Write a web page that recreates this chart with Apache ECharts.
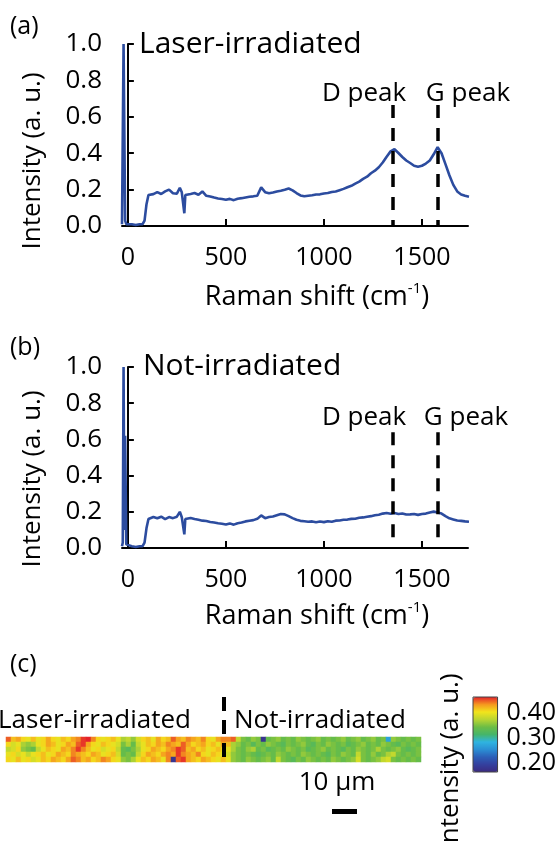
<!DOCTYPE html>
<html>
<head>
<meta charset="utf-8">
<script src="https://cdn.jsdelivr.net/npm/echarts@6/dist/echarts.min.js"></script>
<style>
  html, body { margin: 0; padding: 0; background: #fff; }
  #chart { width: 559px; height: 845px; }
</style>
</head>
<body>
<div id="chart"></div>
<script>
// ---- Raman spectra (a) laser-irradiated, (b) not-irradiated ----
const ramanShift = [
  -30, -26, -22, -18, -14, -8, 0, 20, 40, 60,
  75, 85, 95, 105, 115, 130, 150, 170, 190, 210,
  230, 250, 265, 275, 283, 288, 293, 300,
  320, 340, 360, 380, 400, 420, 440, 460, 480, 500,
  520, 540, 560, 580, 600, 620, 640, 660, 680, 700,
  720, 740, 760, 780, 800, 820, 840, 860, 880, 900,
  920, 940, 960, 980, 1000, 1020, 1040, 1060, 1080, 1100,
  1120, 1140, 1160, 1180, 1200, 1220, 1240, 1260, 1280, 1300,
  1320, 1340, 1360, 1380, 1400, 1420, 1440, 1460, 1480, 1500,
  1520, 1540, 1560, 1580, 1600, 1620, 1640, 1660, 1680, 1700,
  1720, 1740
]
const irradiated = [
  0.01, 0.02, 1.0, 1.0, 0.03, 0.01, 0.01, 0.01, 0.005, 0.01,
  0.01, 0.03, 0.12, 0.17, 0.18, 0.175, 0.186, 0.176, 0.19, 0.2,
  0.18, 0.178, 0.21, 0.185, 0.175, 0.07, 0.17, 0.18,
  0.176, 0.181, 0.172, 0.19, 0.166, 0.162, 0.156, 0.151, 0.148, 0.144,
  0.149, 0.142, 0.15, 0.153, 0.157, 0.161, 0.163, 0.166, 0.212, 0.186,
  0.18, 0.184, 0.19, 0.194, 0.199, 0.206, 0.196, 0.181, 0.168, 0.163,
  0.166, 0.169, 0.173, 0.174, 0.179, 0.181, 0.187, 0.19, 0.197, 0.204,
  0.213, 0.221, 0.233, 0.244, 0.259, 0.271, 0.29, 0.304, 0.323, 0.349,
  0.381, 0.41, 0.422, 0.401, 0.379, 0.36, 0.346, 0.331, 0.326, 0.331,
  0.343, 0.36, 0.394, 0.433, 0.4, 0.34, 0.279, 0.226, 0.19, 0.173,
  0.166, 0.161
]
const pristine = [
  0.01, 0.03, 1.0, 0.1, 0.62, 0.02, 0.01, 0.01, 0.005, 0.01,
  0.01, 0.03, 0.11, 0.16, 0.166, 0.171, 0.164, 0.173, 0.16, 0.171,
  0.165, 0.173, 0.2, 0.17, 0.165, 0.075, 0.16, 0.17,
  0.166, 0.16, 0.156, 0.151, 0.149, 0.144, 0.141, 0.137, 0.134, 0.13,
  0.136, 0.129, 0.137, 0.141, 0.147, 0.151, 0.154, 0.161, 0.18, 0.165,
  0.171, 0.174, 0.181, 0.188, 0.186, 0.176, 0.165, 0.156, 0.15, 0.148,
  0.145, 0.147, 0.142, 0.146, 0.143, 0.148, 0.145, 0.151, 0.152, 0.156,
  0.157, 0.161, 0.162, 0.167, 0.169, 0.173, 0.176, 0.181, 0.184, 0.19,
  0.193, 0.189, 0.193, 0.188, 0.191, 0.185, 0.186, 0.188, 0.183, 0.188,
  0.19, 0.196, 0.201, 0.196, 0.19, 0.176, 0.164, 0.158, 0.152, 0.15,
  0.147, 0.145
]
const peakShifts = [1350, 1580]        // D and G peak markers
const peakLineTop = [0.665, 0.64]      // top of the dashed markers in (a), (b)
const xTickLabels = [0, 500, 1000, 1500]
const xTickMarks = [500, 1000, 1500]

// ---- (c) intensity map, 5 rows x 83 columns (left 44 irradiated) ----
const mapRow0 = [
  0.45, 0.42, 0.43, 0.41, 0.40, 0.42, 0.40, 0.41, 0.43, 0.41,
  0.40, 0.42, 0.41, 0.43, 0.44, 0.46, 0.47, 0.44, 0.41, 0.40,
  0.41, 0.42, 0.40, 0.37, 0.38, 0.36, 0.39, 0.41, 0.42, 0.40,
  0.43, 0.41, 0.42, 0.45, 0.43, 0.42, 0.44, 0.43, 0.42, 0.44,
  0.41, 0.40, 0.43, 0.44,
  0.44, 0.45, 0.38, 0.35, 0.34, 0.36, 0.35, 0.18, 0.34, 0.35,
  0.36, 0.34, 0.35, 0.34, 0.36, 0.35, 0.34, 0.35, 0.36, 0.34,
  0.35, 0.34, 0.35, 0.36, 0.34, 0.35, 0.36, 0.34, 0.35, 0.36,
  0.34, 0.35, 0.27, 0.36, 0.35, 0.34, 0.35, 0.34, 0.35
]
const mapRow1 = [
  0.41, 0.39, 0.40, 0.37, 0.36, 0.37, 0.40, 0.41, 0.43, 0.42,
  0.40, 0.41, 0.43, 0.42, 0.45, 0.46, 0.43, 0.41, 0.40, 0.42,
  0.41, 0.40, 0.39, 0.35, 0.37, 0.34, 0.38, 0.40, 0.42, 0.41,
  0.43, 0.42, 0.44, 0.43, 0.42, 0.45, 0.43, 0.41, 0.42, 0.43,
  0.41, 0.42, 0.40, 0.43,
  0.42, 0.37, 0.36, 0.34, 0.35, 0.33, 0.35, 0.34, 0.36, 0.35,
  0.34, 0.33, 0.35, 0.34, 0.35, 0.36, 0.34, 0.33, 0.35, 0.34,
  0.36, 0.35, 0.34, 0.35, 0.33, 0.34, 0.35, 0.36, 0.34, 0.35,
  0.34, 0.36, 0.35, 0.34, 0.33, 0.35, 0.34, 0.35, 0.34
]
const mapRow2 = [
  0.38, 0.39, 0.41, 0.36, 0.35, 0.34, 0.38, 0.40, 0.42, 0.41,
  0.40, 0.43, 0.42, 0.44, 0.46, 0.44, 0.42, 0.40, 0.41, 0.39,
  0.40, 0.41, 0.38, 0.34, 0.33, 0.35, 0.37, 0.40, 0.41, 0.43,
  0.42, 0.41, 0.43, 0.44, 0.46, 0.45, 0.42, 0.43, 0.41, 0.42,
  0.40, 0.41, 0.42, 0.41,
  0.40, 0.37, 0.35, 0.34, 0.36, 0.37, 0.34, 0.35, 0.33, 0.34,
  0.35, 0.34, 0.36, 0.35, 0.34, 0.35, 0.33, 0.34, 0.35, 0.36,
  0.34, 0.35, 0.34, 0.33, 0.35, 0.34, 0.36, 0.35, 0.34, 0.35,
  0.37, 0.35, 0.34, 0.35, 0.36, 0.34, 0.33, 0.34, 0.35
]
const mapRow3 = [
  0.40, 0.41, 0.39, 0.40, 0.38, 0.40, 0.41, 0.42, 0.40, 0.41,
  0.43, 0.42, 0.41, 0.44, 0.43, 0.42, 0.41, 0.43, 0.42, 0.40,
  0.41, 0.42, 0.39, 0.34, 0.35, 0.34, 0.38, 0.41, 0.43, 0.42,
  0.41, 0.43, 0.44, 0.43, 0.46, 0.44, 0.43, 0.42, 0.44, 0.41,
  0.40, 0.42, 0.41, 0.40,
  0.39, 0.36, 0.35, 0.34, 0.35, 0.34, 0.33, 0.34, 0.35, 0.34,
  0.36, 0.35, 0.34, 0.35, 0.34, 0.36, 0.35, 0.34, 0.35, 0.34,
  0.33, 0.35, 0.34, 0.36, 0.35, 0.34, 0.38, 0.35, 0.34, 0.36,
  0.34, 0.35, 0.37, 0.38, 0.35, 0.34, 0.35, 0.34, 0.35
]
const mapRow4 = [
  0.41, 0.40, 0.42, 0.40, 0.41, 0.39, 0.40, 0.42, 0.41, 0.43,
  0.42, 0.41, 0.43, 0.45, 0.44, 0.42, 0.43, 0.41, 0.42, 0.44,
  0.43, 0.41, 0.40, 0.36, 0.35, 0.37, 0.40, 0.42, 0.41, 0.43,
  0.42, 0.40, 0.44, 0.18, 0.45, 0.46, 0.43, 0.42, 0.41, 0.43,
  0.42, 0.41, 0.40, 0.42,
  0.40, 0.36, 0.35, 0.34, 0.36, 0.35, 0.34, 0.35, 0.36, 0.34,
  0.38, 0.35, 0.34, 0.33, 0.35, 0.34, 0.36, 0.35, 0.34, 0.35,
  0.34, 0.36, 0.35, 0.34, 0.35, 0.36, 0.39, 0.35, 0.34, 0.35,
  0.36, 0.38, 0.39, 0.35, 0.34, 0.35, 0.34, 0.35, 0.34
]
const colorbarTicks = [0.2, 0.3, 0.4]

const FONT = '"Open Sans", "DejaVu Sans", sans-serif'
const BLUE = '#2c4c9f'

// ---- helpers ----
const toPairs = ys => ramanShift.map((x, i) => [x, ys[i]])

const mapRows = [mapRow0, mapRow1, mapRow2, mapRow3, mapRow4]
const mapData = []
mapRows.forEach((row, r) => row.forEach((v, c) => mapData.push([c, r, v])))
const mapCols = mapRow0.map((_, i) => i)

function spectrumX(gi) {
  return {
    gridIndex: gi, type: 'value', min: -30, max: 1735,
    axisLine: { show: true, onZero: false, lineStyle: { color: '#000', width: 2 } },
    axisTick: { show: true, inside: true, length: 7, customValues: xTickMarks, lineStyle: { color: '#000', width: 2 } },
    axisLabel: { customValues: xTickLabels, formatter: v => String(v), fontSize: 25, color: '#000', margin: 19, fontFamily: FONT },
    splitLine: { show: false }
  }
}

function spectrumY(gi) {
  return {
    gridIndex: gi, type: 'value', min: 0, max: 1, interval: 0.2,
    axisLine: { show: true, lineStyle: { color: '#000', width: 2 } },
    axisTick: { show: true, inside: true, length: 6, lineStyle: { color: '#000', width: 2 } },
    axisLabel: { formatter: v => v.toFixed(1), fontSize: 26, color: '#000', margin: 20, fontFamily: FONT },
    splitLine: { show: false }
  }
}

function peakMarks(gi) {
  return {
    silent: true, symbol: 'none', animation: false,
    label: { show: false },
    lineStyle: { color: '#000', width: 3.5, type: [13, 10] },
    data: peakShifts.map(p => [{ coord: [p, peakLineTop[gi]] }, { coord: [p, 0] }])
  }
}

function txt(text, x, y, size, align, extra) {
  return Object.assign({
    type: 'text', x, y, z: 20,
    style: { text, fontSize: size, fontFamily: FONT, fill: '#000', align: align || 'left', verticalAlign: 'middle' }
  }, extra || {})
}

function ramanName(x, y) {
  return {
    type: 'text', x, y, z: 20,
    style: {
      text: '{m|Raman shift (cm}{s|-1}{m|)}',
      align: 'center', verticalAlign: 'middle', fill: '#000',
      rich: {
        m: { fontSize: 27, fontFamily: FONT, lineHeight: 32 },
        s: { fontSize: 15, fontFamily: FONT, verticalAlign: 'top' }
      }
    }
  }
}

const chart = echarts.init(document.getElementById('chart'), null, { renderer: 'canvas' })

chart.setOption({
  animation: false,
  backgroundColor: '#fff',
  textStyle: { fontFamily: FONT },
  grid: [
    { left: 122, top: 44, width: 346, height: 182 },
    { left: 122, top: 367, width: 346, height: 181 },
    { left: 6, top: 737, width: 415, height: 25 },
    { left: 473, top: 697, width: 25, height: 75, show: true, z: 10,
      backgroundColor: 'transparent', borderColor: '#444', borderWidth: 1 }
  ],
  xAxis: [
    spectrumX(0),
    spectrumX(1),
    { gridIndex: 2, type: 'category', data: mapCols, show: false },
    { gridIndex: 3, type: 'value', show: false }
  ],
  yAxis: [
    spectrumY(0),
    spectrumY(1),
    { gridIndex: 2, type: 'category', data: [0, 1, 2, 3, 4], inverse: true, show: false },
    {
      gridIndex: 3, type: 'value', min: 0.165, max: 0.465, position: 'right',
      axisLine: { show: false },
      axisTick: { show: true, inside: false, length: 7, customValues: colorbarTicks, lineStyle: { color: '#333', width: 1.5 } },
      axisLabel: { customValues: colorbarTicks, formatter: v => v.toFixed(2), fontSize: 25, color: '#000', margin: 9, fontFamily: FONT },
      splitLine: { show: false }
    }
  ],
  visualMap: {
    type: 'continuous', seriesIndex: 2, min: 0.165, max: 0.465,
    calculable: false, orient: 'vertical', left: 473, top: 697,
    itemWidth: 25, itemHeight: 75, padding: 0, text: null, hoverLink: false,
    inRange: {
      color: ['#3b2a80', '#34409e', '#2c5fb8', '#2b8fd4', '#2fb4e0', '#45b56a',
              '#6cbd45', '#b9d532', '#f2e41c', '#f5981f', '#e4232a']
    }
  },
  series: [
    {
      type: 'line', xAxisIndex: 0, yAxisIndex: 0, data: toPairs(irradiated),
      showSymbol: false, symbol: 'none', lineStyle: { color: BLUE, width: 2.6 },
      markLine: peakMarks(0)
    },
    {
      type: 'line', xAxisIndex: 1, yAxisIndex: 1, data: toPairs(pristine),
      showSymbol: false, symbol: 'none', lineStyle: { color: BLUE, width: 2.6 },
      markLine: peakMarks(1)
    },
    {
      type: 'heatmap', xAxisIndex: 2, yAxisIndex: 2, data: mapData,
      itemStyle: { borderWidth: 0 }, emphasis: { disabled: true }
    }
  ],
  graphic: [
    txt('(a)', 10, 27, 25),
    txt('Laser-irradiated', 139, 44, 30),
    txt('D peak', 364, 94, 26, 'center'),
    txt('G peak', 468, 94, 26, 'center'),
    ramanName(317, 297),
    txt('Intensity (a. u.)', 33, 161, 26, 'center', { rotation: Math.PI / 2 }),

    txt('(b)', 10, 348, 25),
    txt('Not-irradiated', 143, 366, 30),
    txt('D peak', 364, 418, 26, 'center'),
    txt('G peak', 466, 418, 26, 'center'),
    ramanName(317, 616),
    txt('Intensity (a. u.)', 33, 479, 26, 'center', { rotation: Math.PI / 2 }),

    txt('(c)', 10, 665, 25),
    txt('Laser-irradiated', -2, 721, 26),
    txt('Not-irradiated', 234, 721, 26),
    {
      type: 'line', z: 20,
      shape: { x1: 224, y1: 697, x2: 224, y2: 762 },
      style: { stroke: '#000', lineWidth: 4, lineDash: [14, 9] }
    },
    txt('10 µm', 337, 783, 26, 'center'),
    { type: 'rect', z: 20, shape: { x: 332, y: 809, width: 25, height: 5 }, style: { fill: '#000' } },
    txt('Intensity (a. u.)', 451, 762, 26, 'center', { rotation: Math.PI / 2 })
  ]
})
</script>
</body>
</html>
